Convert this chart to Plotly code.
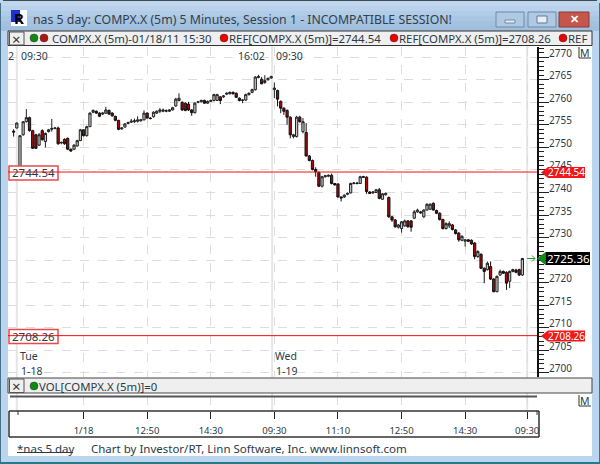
import plotly.graph_objects as go

W, H = 600, 464

bar_index = list(range(-2, 159))

opens = [
2753.6,2754.3,
2745.0,2752.8,2755.7,2756.6,2753.7,2752.8,2750.5,2753.7,2751.3,2753.5,
2754.0,2754.2,2754.3,2751.0,2751.8,2752.0,2749.6,2749.6,2750.3,2751.5,
2753.9,2752.6,2754.6,2757.8,2758.0,2757.6,2757.4,2757.6,2758.2,2757.6,
2756.9,2756.0,2754.1,2754.5,2755.3,2755.6,2755.7,2755.8,2755.9,2756.1,
2757.6,2756.5,2756.8,2757.6,2758.0,2758.0,2758.1,2758.0,2758.3,2759.2,
2760.4,2760.0,2759.8,2759.6,2758.3,2757.7,2760.0,2760.1,2760.4,2759.8,
2760.2,2760.4,2760.4,2761.2,2761.2,2761.8,2761.9,2762.2,2762.0,2760.9,
2760.4,2760.5,2761.7,2762.2,2762.8,2765.5,2765.1,2764.4,2765.0,2765.4,
2762.8,2762.6,2760.2,2758.7,2758.2,2756.7,2752.4,2752.4,2756.7,2753.5,
2753.3,2748.1,2747.1,2745.1,2744.4,2741.4,2743.5,2743.6,2743.8,2742.0,
2741.9,2739.0,2739.0,2739.6,2739.9,2742.0,2742.1,2742.0,2743.5,2743.4,
2740.1,2739.9,2740.0,2740.6,2738.5,2739.5,2738.9,2734.6,2733.9,2732.3,
2732.0,2732.6,2733.7,2733.7,2734.3,2735.7,2735.7,2734.6,2736.1,2736.3,
2737.6,2736.0,2735.4,2734.0,2732.0,2732.6,2732.8,2731.7,2731.0,2729.4,
2729.2,2729.5,2729.4,2728.8,2725.8,2726.3,2723.2,2722.9,2723.6,2720.8,
2718.0,2721.7,2722.5,2722.3,2720.3,2722.5,2722.8,2722.9,2721.7]

highs = [
2754.0,2755.5,
2752.7,2755.8,2758.5,2756.8,2753.9,2753.0,2753.2,2754.0,2753.3,2754.1,
2756.3,2754.5,2754.6,2751.3,2752.0,2752.2,2749.7,2750.7,2751.7,2754.1,
2754.0,2754.8,2757.8,2758.4,2758.2,2757.8,2757.8,2759.0,2758.4,2757.8,
2757.0,2756.1,2754.5,2755.4,2755.7,2756.3,2756.4,2756.9,2756.3,2758.2,
2757.8,2756.7,2758.0,2758.2,2758.7,2758.6,2758.4,2758.5,2759.0,2761.0,
2762.0,2760.2,2760.0,2760.1,2758.5,2760.0,2760.3,2760.6,2760.6,2760.4,
2760.6,2761.9,2761.9,2761.4,2761.6,2762.2,2762.4,2762.4,2762.2,2761.1,
2760.7,2761.9,2762.2,2763.0,2765.8,2766.1,2765.6,2766.0,2765.5,2765.9,
2764.4,2762.8,2760.4,2758.9,2758.4,2756.9,2753.0,2757.0,2757.0,2756.5,
2755.4,2748.3,2747.3,2745.6,2744.7,2743.7,2743.9,2744.0,2744.2,2742.1,
2742.0,2739.1,2739.6,2740.0,2742.2,2742.3,2742.3,2743.7,2743.7,2743.6,
2740.3,2740.3,2740.8,2741.0,2739.9,2740.0,2739.1,2734.8,2734.1,2733.0,
2733.7,2734.0,2733.9,2733.9,2736.1,2736.4,2735.9,2736.3,2737.6,2737.6,
2737.8,2736.2,2735.6,2734.2,2733.4,2733.6,2733.0,2731.9,2731.2,2730.5,
2729.7,2729.7,2729.6,2729.0,2727.2,2726.5,2723.4,2724.7,2724.7,2721.0,
2721.6,2722.9,2722.7,2722.5,2722.7,2723.1,2723.1,2723.1,2725.5]

lows = [
2752.4,2754.2,
2744.5,2752.6,2755.5,2753.5,2749.7,2749.7,2750.3,2751.5,2750.0,2753.3,
2753.5,2754.0,2750.6,2750.7,2750.6,2749.4,2749.0,2749.4,2750.2,2751.4,
2752.4,2752.4,2754.5,2757.6,2757.4,2756.7,2757.2,2757.4,2757.2,2756.8,
2755.8,2753.8,2753.9,2754.4,2755.1,2755.4,2755.4,2755.5,2755.7,2756.0,
2756.4,2756.2,2756.6,2757.4,2757.6,2757.8,2757.8,2757.9,2758.2,2759.0,
2760.2,2758.1,2758.0,2758.1,2757.0,2757.5,2759.8,2760.0,2759.7,2759.7,
2760.1,2760.2,2760.3,2759.6,2761.0,2761.6,2761.7,2761.7,2761.0,2760.2,
2759.8,2760.3,2761.5,2762.0,2762.6,2765.3,2764.0,2764.1,2764.8,2765.2,
2760.9,2759.1,2757.6,2757.2,2755.0,2752.0,2752.0,2752.2,2755.5,2753.1,
2748.0,2746.9,2744.9,2743.5,2741.2,2741.1,2743.3,2743.4,2741.8,2741.5,
2738.9,2738.0,2738.8,2739.4,2739.8,2741.8,2741.8,2741.9,2743.3,2739.7,
2739.7,2739.7,2739.9,2738.5,2738.4,2739.3,2734.4,2733.5,2732.2,2732.0,
2731.1,2732.4,2732.2,2731.3,2734.1,2735.5,2735.3,2734.4,2736.0,2736.1,
2736.0,2735.2,2733.8,2731.8,2731.8,2732.1,2731.6,2730.7,2729.1,2729.2,
2728.0,2729.0,2728.4,2725.2,2725.5,2723.0,2719.9,2722.7,2720.6,2717.9,
2717.9,2721.5,2722.0,2718.4,2718.8,2722.3,2722.1,2721.5,2721.5]

closes = [
2753.4,2755.4,
2752.6,2755.7,2756.6,2753.7,2749.8,2749.8,2752.8,2751.7,2753.1,2753.9,
2754.2,2754.3,2750.8,2751.1,2750.8,2749.6,2749.2,2750.5,2751.5,2753.9,
2752.6,2754.6,2757.6,2758.2,2757.6,2756.9,2757.6,2758.3,2757.4,2757.0,
2756.0,2754.0,2754.3,2755.2,2755.5,2755.8,2755.9,2756.1,2756.1,2757.6,
2756.5,2756.4,2757.8,2758.0,2758.3,2758.3,2758.1,2758.3,2758.8,2760.7,
2760.9,2758.3,2758.2,2758.3,2757.7,2759.8,2760.1,2760.4,2759.8,2760.2,
2760.4,2761.7,2761.7,2760.4,2761.4,2762.0,2762.2,2761.9,2761.1,2760.4,
2760.5,2761.7,2762.0,2762.8,2765.6,2765.7,2764.1,2764.8,2765.3,2765.7,
2763.15,2760.7,2758.7,2758.0,2756.7,2752.8,2752.8,2756.7,2755.7,2755.7,
2748.1,2747.1,2745.1,2744.6,2741.4,2743.5,2743.7,2743.8,2742.0,2741.7,
2739.0,2738.8,2739.4,2739.8,2742.0,2742.1,2742.0,2743.5,2743.4,2740.2,
2739.8,2740.1,2740.6,2738.7,2739.7,2739.8,2734.6,2733.9,2732.4,2732.8,
2733.5,2733.7,2732.4,2732.3,2735.7,2736.1,2735.5,2736.1,2737.4,2737.4,
2736.1,2735.4,2734.0,2732.0,2733.1,2733.1,2731.8,2730.9,2729.5,2730.3,
2729.5,2729.2,2728.6,2725.8,2726.9,2723.2,2722.5,2724.3,2720.8,2718.0,
2721.4,2722.5,2722.1,2719.9,2722.5,2722.9,2722.3,2721.7,2725.36]

volume_bar_index = [-2, 158]
volume_values = [0, 0]

ref_levels = [2744.54, 2708.26]
last_price = 2725.36
session_breaks = [-1, 79.3, 159.5]
x_tick_positions = [20, 40, 60, 80, 100, 120, 140, 159.5]
x_tick_labels = ["1/18", "12:50", "14:30", "09:30", "11:10", "12:50", "14:30", "09:30"]
y_tick_values = list(range(2700, 2775, 5))
y_tick_labels = ["" if v == 2725 else str(v) for v in y_tick_values]

FONT = "Noto Sans"
INK = "#2c3a48"
FRAME = "#bcd5ee"
WHITE = "#ffffff"
BAR_GREY = "#efefef"


def px(x):
    return x / W


def py(y):
    return 1 - y / H


shapes = []
annotations = []


def rect(x0, y0, x1, y1, fill=None, line=None, lw=1, layer="above"):
    shapes.append(dict(type="rect", xref="paper", yref="paper", x0=px(x0), x1=px(x1),
                       y0=py(y0), y1=py(y1), fillcolor=fill or "rgba(0,0,0,0)",
                       line=dict(color=line or "rgba(0,0,0,0)", width=lw if line else 0),
                       layer=layer))


def seg(x0, y0, x1, y1, color="#222222", lw=1, dash="solid", layer="above"):
    shapes.append(dict(type="line", xref="paper", yref="paper", x0=px(x0), x1=px(x1),
                       y0=py(y0), y1=py(y1), line=dict(color=color, width=lw, dash=dash),
                       layer=layer))


def dot(x, y, fill, r=4):
    shapes.append(dict(type="circle", xref="paper", yref="paper", x0=px(x - r), x1=px(x + r),
                       y0=py(y + r), y1=py(y - r), fillcolor=fill,
                       line=dict(color="#333333", width=0.5), layer="above"))


def poly(points, fill):
    path = "M " + " L ".join(f"{px(x):.5f} {py(y):.5f}" for x, y in points) + " Z"
    shapes.append(dict(type="path", xref="paper", yref="paper", path=path, fillcolor=fill,
                       line=dict(width=0), layer="above"))


def label(x, y, text, size=11, color=INK, anchor="left", bold=False):
    annotations.append(dict(xref="paper", yref="paper", x=px(x), y=py(y),
                            text=f"<b>{text}</b>" if bold else text,
                            showarrow=False, xanchor=anchor, yanchor="middle",
                            font=dict(family=FONT, size=size, color=color),
                            borderpad=0, borderwidth=0))


# window frame
rect(0, 0, 600, 464, fill=FRAME, layer="below")
for i, c in enumerate(["#c0d6ec", "#b9d1ea", "#b1cce7", "#a9c6e3", "#a4c2e0", "#a0bfde"]):
    rect(1, 1 + i * 5, 599, 6 + i * 5, fill=c, layer="below")
seg(3, 0.5, 597, 0.5, color="#3d4a58", lw=1, layer="below")
seg(0.5, 3, 0.5, 462, color="#47708a", lw=1, layer="below")
seg(599.5, 3, 599.5, 462, color="#47708a", lw=1, layer="below")
seg(0, 463, 600, 463, color="#1c7f8e", lw=2, layer="below")
rect(8, 46, 592, 456, fill=WHITE, layer="below")

# window icon
rect(11, 10, 27, 26, fill="#ffffff", layer="above")
rect(11, 10, 20, 22, fill="#1f2fd0", layer="above")
label(19, 18, "R", size=15, color="#000000", anchor="center", bold=True)

label(33, 19.5, "nas 5 day: COMPX.X (5m) 5 Minutes, Session 1 - INCOMPATIBLE SESSION!", size=12.3, color="#33404e")

# window buttons
rect(496, 12, 524, 27, fill="#b0c9e2", line="#6f8aa6")
rect(505, 20, 515, 23, fill="#e8eef4", line="#6f8aa6")
rect(528, 12, 556, 27, fill="#b0c9e2", line="#6f8aa6")
rect(537, 16, 547, 23, fill="#e8eef4", line="#5f7a96")
rect(559, 12, 589, 27, fill="#c4564c", line="#8c3a33")
label(574, 19, "✕", size=11, color="#ffffff", anchor="center", bold=True)

# upper info bar
rect(8, 31, 592, 45.5, fill=BAR_GREY, line="#333333")
rect(9.5, 32, 24, 45, fill=BAR_GREY, line="#555555")
label(16.7, 38.5, "×", size=15, color="#333333", anchor="center")
dot(34, 38, "#118a11")
dot(44, 38, "#b01515")
label(52, 38.5, "COMPX.X (5m)-01/18/11 15:30", size=11.4)
dot(224, 38, "#ee0000")
label(229, 38.5, "REF[COMPX.X (5m)]=2744.54", size=11.4)
dot(394, 38, "#ee0000")
label(399, 38.5, "REF[COMPX.X (5m)]=2708.26", size=11.4)
dot(563, 38, "#ee0000")
label(568, 38.5, "REF", size=11.4)

# right margin buttons
rect(579, 47, 591, 58, fill=WHITE)
seg(579, 47, 579, 58, color="#333333")
seg(579, 58, 591, 58, color="#333333")
label(585, 53, "M", size=10.5, color=INK, anchor="center")
rect(579, 395, 591, 406, fill=WHITE)
seg(579, 395, 579, 406, color="#333333")
seg(579, 406, 591, 406, color="#333333")
label(585, 401, "M", size=10.5, color=INK, anchor="center")

# overlay texts in the price panel
label(8, 55.5, "2", size=10.5)
label(21, 55.5, "09:30", size=10.5)
label(238, 55.5, "16:02", size=10.5)
label(276, 55.5, "09:30", size=10.5)
label(20, 356, "Tue", size=10.5)
label(21, 371, "1-18", size=10.5)
label(275, 356, "Wed", size=10.5)
label(276, 371, "1-19", size=10.5)

# reference boxes on the left
for y0, t in ((173, "2744.54"), (336.5, "2708.26")):
    rect(9, y0 - 7, 58, y0 + 7, fill=WHITE, line="#e84a4a", lw=1.5)
    label(33.5, y0, t, size=11.5, anchor="center")

# price flags on the right
for y0, t in ((172.5, "2744.54"), (336, "2708.26")):
    poly([(541, y0), (548, y0 - 5.5), (585, y0 - 5.5), (585, y0 + 5.5), (548, y0 + 5.5)], "#f01818")
    label(566, y0, t, size=10, color="#ffffff", anchor="center")
poly([(537, 258.5), (545.5, 252), (545.5, 265)], "#0f8a1a")
rect(545.5, 252, 590, 265, fill="#000000")
label(568, 258.5, "2725.36", size=11.5, color="#ffffff", anchor="center")
seg(527, 258.5, 535, 258.5, color="#2a9a2a", dash="dash")
seg(532, 255.5, 535, 258.5, color="#2a9a2a")
seg(532, 261.5, 535, 258.5, color="#2a9a2a")

# volume panel strip and ruler frame
rect(8, 378, 592, 393, fill=BAR_GREY, line="#444444")
rect(9.5, 379, 24, 392.5, fill=BAR_GREY, line="#555555")
label(16.7, 386, "×", size=15, color="#333333", anchor="center")
dot(34, 386, "#118a11")
label(39, 386.5, "VOL[COMPX.X (5m)]=0", size=11.4)
seg(10, 396.5, 537, 396.5, color="#555555", lw=2)
seg(9, 411, 539, 411, color="#333333", lw=1.5)
seg(9, 411, 9, 437, color="#333333", lw=1.5)
seg(539, 411, 539, 437, color="#333333", lw=1.5)
seg(9, 437, 539, 437, color="#333333", lw=1.5)
seg(18, 411, 18, 415, color="#333333")
seg(537, 411, 537, 415, color="#333333")

# footer
label(17, 448, "*nas 5 day", size=11.5)
seg(17, 452.5, 73, 452.5, color=INK)
label(91, 448, "Chart by Investor/RT, Linn Software, Inc. www.linnsoft.com", size=11.5)

# session separators and reference levels, placed from the chart's own scales
for s in session_breaks:
    shapes.append(dict(type="line", xref="x", yref="paper", x0=s, x1=s, y0=py(411), y1=py(46),
                       line=dict(color="#e6e6e6", width=2), layer="below"))
for level in ref_levels:
    shapes.append(dict(type="line", xref="paper", yref="y", x0=px(8), x1=px(537), y0=level, y1=level,
                       line=dict(color="#f01010", width=1), layer="above"))

fig = go.Figure()
fig.add_trace(go.Candlestick(
    x=bar_index, open=opens, high=highs, low=lows, close=closes,
    increasing=dict(line=dict(color="#222222", width=1), fillcolor="#c8c8c8"),
    decreasing=dict(line=dict(color="#111111", width=1), fillcolor="#a80808"),
    whiskerwidth=0, xaxis="x", yaxis="y", showlegend=False))
fig.add_trace(go.Scatter(x=volume_bar_index, y=volume_values, mode="lines",
                         line=dict(width=0), xaxis="x", yaxis="y2", showlegend=False))

fig.update_layout(
    width=W, height=H, autosize=False,
    margin=dict(l=0, r=0, t=0, b=0, pad=0, autoexpand=False),
    paper_bgcolor=FRAME, plot_bgcolor="rgba(0,0,0,0)",
    boxgap=0.0, showlegend=False,
    font=dict(family=FONT, size=10, color=INK),
    xaxis=dict(domain=[px(8), px(537)], range=[-3.77, 162.6], anchor="y2", type="linear",
               rangeslider=dict(visible=False),
               tickmode="array", tickvals=x_tick_positions, ticktext=x_tick_labels,
               ticks="outside", ticklen=7, tickwidth=1, tickcolor="#222222",
               showgrid=True, gridcolor="#dddddd", griddash="dash", gridwidth=1,
               zeroline=False, showline=False, automargin=False,
               tickfont=dict(family=FONT, size=9.5, color=INK), ticklabelstandoff=4),
    yaxis=dict(domain=[py(377), py(47)], range=[2699.09, 2772.26], anchor="x", side="right",
               tickmode="array", tickvals=y_tick_values, ticktext=y_tick_labels,
               ticks="outside", ticklen=10, tickwidth=1, tickcolor="#222222",
               minor=dict(dtick=1, ticks="outside", ticklen=5, tickcolor="#222222", tickwidth=1, showgrid=False),
               showline=True, linecolor="#111111", linewidth=2,
               showgrid=True, gridcolor="#dddddd", griddash="dash", gridwidth=1,
               zeroline=False, automargin=False, tickfont=dict(family=FONT, size=10, color=INK),
               ticklabelshift=-4, ticklabelstandoff=-2),
    yaxis2=dict(domain=[py(411), py(378)], range=[0, 1], anchor="x", visible=False),
    shapes=shapes, annotations=annotations,
)

fig.write_html("out.html", config=dict(displayModeBar=False),
               post_script="document.body.style.margin='0';")
